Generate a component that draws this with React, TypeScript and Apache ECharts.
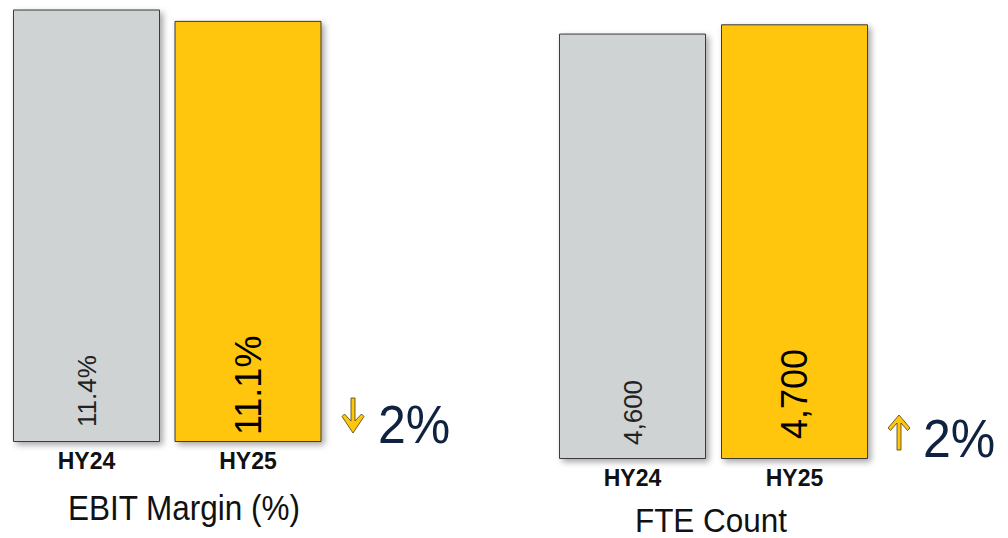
import React, { useEffect, useRef } from "react";
import * as echarts from "echarts";

const categories = ["HY24", "HY25"];
const ebitMargin = [11.4, 11.1];
const fteCount = [4600, 4700];
const barColors = ["#D0D3D4", "#FFC610"];
const ebitLabelSizes = [26, 36];
const fteLabelSizes = [26, 36];
const ebitLabelGaps = [15, 7];
const fteLabelGaps = [14, 20];
const chartTitles = ["EBIT Margin (%)", "FTE Count"];
const changeTexts = ["2%", "2%"];

const FONT = "'Liberation Sans', Arial, Helvetica, sans-serif";

function makeData(values: number[], sizes: number[], gaps: number[]) {
  return values.map((v, i) => ({
    value: v,
    itemStyle: { color: barColors[i] },
    label: { fontSize: sizes[i], distance: gaps[i], color: i === 0 ? "#222" : "#000" },
  }));
}

export default function App() {
  const ref = useRef<HTMLDivElement>(null);
  useEffect(() => {
    if (!ref.current) return;
    const chart = echarts.init(ref.current, null, { renderer: "svg" });
    const itemStyle = {
      borderColor: "#3a3a3a",
      borderWidth: 1,
      shadowBlur: 6,
      shadowOffsetX: 3,
      shadowOffsetY: 3,
      shadowColor: "rgba(0,0,0,0.35)",
    };
    const baseLabel = {
      show: true,
      position: "insideBottom",
      rotate: 90,
      align: "left",
      verticalAlign: "middle",
      fontFamily: FONT,
    };
    const xAxisBase = {
      type: "category",
      data: categories,
      axisLine: { show: false },
      axisTick: { show: false },
      axisLabel: { fontFamily: FONT, fontWeight: "bold", fontSize: 23, color: "#111", margin: 7 },
    };
    chart.setOption({
      animation: false,
      backgroundColor: "#ffffff",
      grid: [
        { left: 5.75, top: 9.5, width: 323, height: 432.5 },
        { left: 551.5, top: 24.3, width: 324, height: 434.7 },
      ],
      xAxis: [
        { ...xAxisBase, gridIndex: 0 },
        { ...xAxisBase, gridIndex: 1 },
      ],
      yAxis: [
        { type: "value", gridIndex: 0, min: 0, max: "dataMax", show: false },
        { type: "value", gridIndex: 1, min: 0, max: "dataMax", show: false },
      ],
      series: [
        {
          type: "bar",
          xAxisIndex: 0,
          yAxisIndex: 0,
          barWidth: 147,
          itemStyle,
          label: { ...baseLabel, formatter: (p: any) => p.value.toFixed(1) + "%" },
          data: makeData(ebitMargin, ebitLabelSizes, ebitLabelGaps),
        },
        {
          type: "bar",
          xAxisIndex: 1,
          yAxisIndex: 1,
          barWidth: 147,
          itemStyle,
          label: { ...baseLabel, formatter: (p: any) => p.value.toLocaleString("en-US") },
          data: makeData(fteCount, fteLabelSizes, fteLabelGaps),
        },
      ],
      graphic: [
        {
          type: "text",
          x: 184,
          y: 508,
          scaleY: 1.12,
          style: { text: chartTitles[0], fontFamily: FONT, fontSize: 31.5, fill: "#111", align: "center", verticalAlign: "middle" },
        },
        {
          type: "text",
          x: 711,
          y: 520,
          scaleY: 1.08,
          style: { text: chartTitles[1], fontFamily: FONT, fontSize: 31.5, fill: "#111", align: "center", verticalAlign: "middle" },
        },
        {
          type: "polygon",
          shape: {
            points: [
              [351, 398], [355, 398], [355, 421], [361.5, 414], [364, 416.5], [353, 433],
              [342, 416.5], [344.5, 414], [351, 421],
            ],
          },
          style: { fill: "#FFC610", stroke: "#4a3a10", lineWidth: 0.8 },
        },
        {
          type: "polygon",
          shape: {
            points: [
              [899, 415], [910, 428], [907.5, 430.5], [901, 423], [901, 450], [897, 450],
              [897, 423], [890.5, 430.5], [888, 428],
            ],
          },
          style: { fill: "#FFC610", stroke: "#4a3a10", lineWidth: 0.8 },
        },
        {
          type: "text",
          x: 378,
          y: 424,
          scaleY: 1.08,
          style: { text: changeTexts[0], fontFamily: FONT, fontSize: 50, fill: "#0F2341", align: "left", verticalAlign: "middle" },
        },
        {
          type: "text",
          x: 923,
          y: 438,
          scaleY: 1.08,
          style: { text: changeTexts[1], fontFamily: FONT, fontSize: 50, fill: "#0F2341", align: "left", verticalAlign: "middle" },
        },
      ],
    });
    return () => chart.dispose();
  }, []);
  return (
    <div
      ref={ref}
      style={{ position: "fixed", left: 0, top: 0, width: 1008, height: 538, background: "#fff" }}
    />
  );
}
